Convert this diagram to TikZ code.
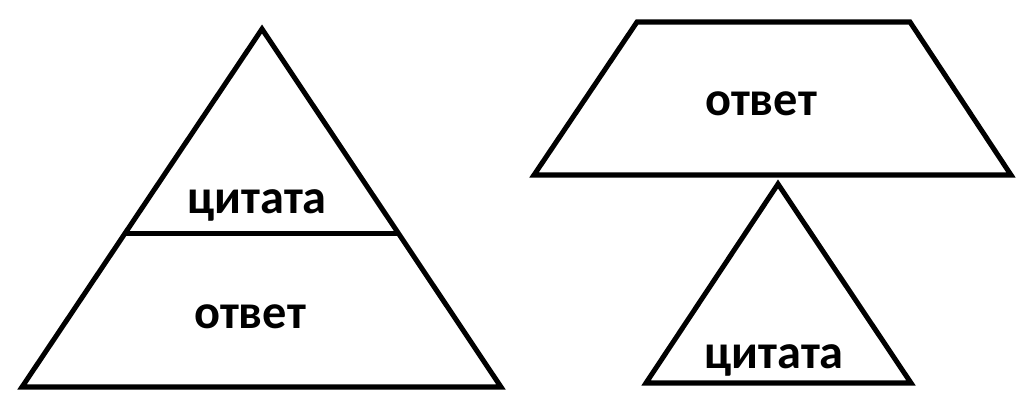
\documentclass[tikz,border=0pt]{standalone}
\usepackage{fontspec}
\setmainfont{Carlito}
\usepackage{tikz}
\usetikzlibrary{calc,positioning}

\begin{document}
\begin{tikzpicture}

\tikzset{shapeline/.style={line width=2.85pt,line join=miter,draw=black},
wordnode/.style={font=\fontsize{27.5}{32}\selectfont\bfseries,anchor=base,inner sep=0pt}}

\useasboundingbox (0,0) rectangle (20.66,8.16);

% Left pyramid
\coordinate (apexL) at (5.24,7.58);
\coordinate (leftL) at (0.44,0.42);
\coordinate (rightL) at (10.02,0.42);
\draw[shapeline] (apexL) -- (leftL) -- (rightL) -- cycle;
\coordinate (cutA) at ($(leftL)!0.4286!(apexL)$);
\coordinate (cutB) at ($(rightL)!0.4286!(apexL)$);
\draw[shapeline] (cutA) -- (cutB);
\node[wordnode] (quoteL) at (5.14,3.9) {цитата};
\node[wordnode] (answerL) at (5.0,1.6) {ответ};

% Right trapezoid
\coordinate (topA) at (12.74,7.72);
\coordinate (topB) at (18.2,7.72);
\coordinate (botA) at (10.68,4.66);
\coordinate (botB) at (20.22,4.66);
\draw[shapeline] (topA) -- (topB) -- (botB) -- (botA) -- cycle;
\node[wordnode] (answerR) at (15.22,5.86) {ответ};

% Small triangle below
\coordinate (apexS) at (15.56,4.48);
\coordinate (leftS) at (12.92,0.5);
\coordinate (rightS) at (18.22,0.5);
\draw[shapeline] (apexS) -- (leftS) -- (rightS) -- cycle;
\node[wordnode] (quoteR) at (15.48,0.8) {цитата};

\end{tikzpicture}
\end{document}
